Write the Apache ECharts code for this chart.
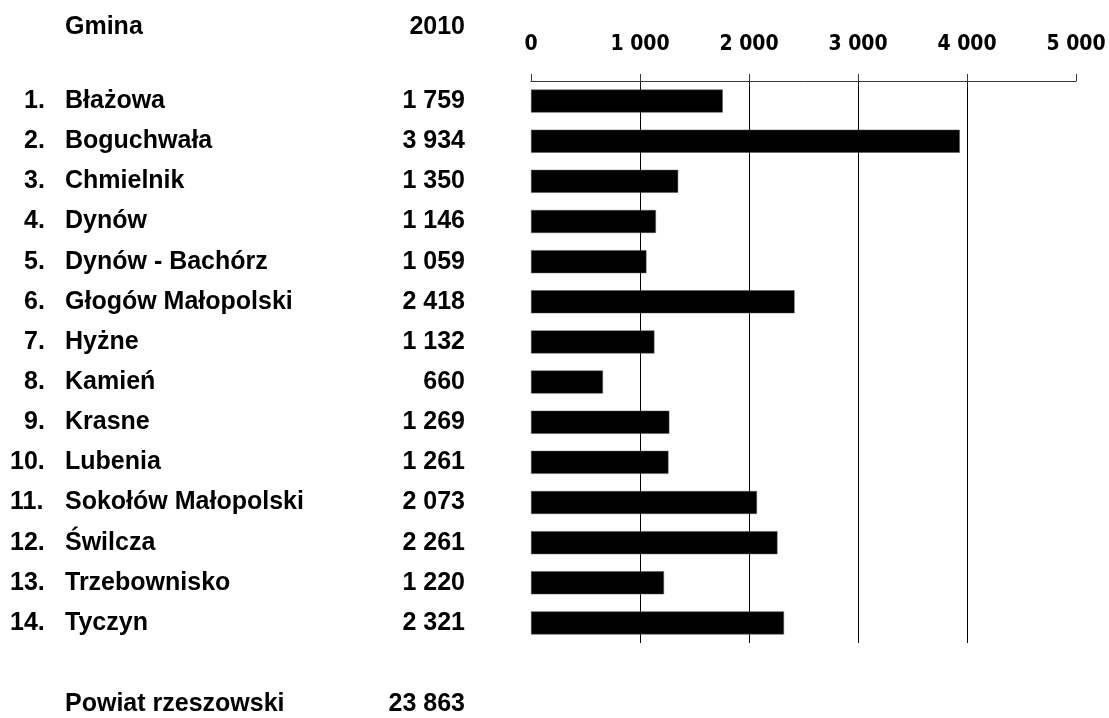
<!DOCTYPE html>
<html><head><meta charset="utf-8">
<script src="https://cdn.jsdelivr.net/npm/echarts@6/dist/echarts.min.js"></script>
<style>html,body{margin:0;padding:0;background:#fff}#c{width:1109px;height:718px}</style>
</head><body><div id="c"></div>
<script>
const categories = ['Błażowa','Boguchwała','Chmielnik','Dynów','Dynów - Bachórz','Głogów Małopolski','Hyżne','Kamień','Krasne','Lubenia','Sokołów Małopolski','Świlcza','Trzebownisko','Tyczyn'];
const values2010 = [1759,3934,1350,1146,1059,2418,1132,660,1269,1261,2073,2261,1220,2321];
const headerName = 'Gmina';
const headerYear = '2010';
const totalName = 'Powiat rzeszowski';
const totalValue = 23863;
const tickValues = [0,1000,2000,3000,4000,5000];

function fmt(v){ return String(v).replace(/\B(?=(\d{3})+(?!\d))/g,' '); }

const FONT = 'Liberation Sans, Arial, Helvetica, sans-serif';
const FS = 25;
const chart = echarts.init(document.getElementById('c'), null, {renderer:'canvas'});
const txt = {fontFamily:FONT, fontWeight:'bold', fontSize:FS, fill:'#000', verticalAlign:'middle'};
const tok = {fontFamily:FONT, fontWeight:'bold', fontSize:FS, color:'#000'};
chart.setOption({
  animation:false,
  backgroundColor:'#fff',
  grid:{left:531, top:81, width:545, height:562, containLabel:false},
  xAxis:{
    type:'value', position:'top', min:tickValues[0], max:tickValues[tickValues.length-1], interval:1000,
    axisLine:{show:true, lineStyle:{color:'#3a3a3a', width:1}},
    axisTick:{show:true, length:7, lineStyle:{color:'#3a3a3a', width:1}},
    axisLabel:{margin:26, color:'#000', fontFamily:'DejaVu Sans Condensed, DejaVu Sans, sans-serif', fontWeight:'bold', fontSize:21, formatter:v=>fmt(v)},
    splitLine:{show:true, showMinLine:false, showMaxLine:false, lineStyle:{color:'#000', width:1}}
  },
  yAxis:{
    type:'category', inverse:true, data:categories,
    axisLine:{show:false}, axisTick:{show:false},
    axisLabel:{
      margin:66, color:'#000',
      formatter:(v,i)=>(i<9 ? '{p| }{n|'+(i+1)+'.}' : '{w|'+(i+1)+'.}') + '{m|'+v+'}{v|'+fmt(values2010[i])+'}',
      rich:{
        p:Object.assign({width:14, align:'left'}, tok),
        n:Object.assign({width:41, align:'left'}, tok),
        w:Object.assign({width:55, align:'left'}, tok),
        m:Object.assign({width:270, align:'left'}, tok),
        v:Object.assign({width:130, align:'right'}, tok)
      }
    }
  },
  series:[{type:'bar', data:values2010, barWidth:23, itemStyle:{color:'#000', borderColor:'#555', borderWidth:0.5}}],
  graphic:[
    {type:'text', x:65, y:27, style:Object.assign({text:headerName, align:'left'}, txt)},
    {type:'text', x:465, y:27, style:Object.assign({text:headerYear, align:'right'}, txt)},
    {type:'text', x:65, y:704, style:Object.assign({text:totalName, align:'left'}, txt)},
    {type:'text', x:465, y:704, style:Object.assign({text:fmt(totalValue), align:'right'}, txt)}
  ]
});
</script></body></html>
